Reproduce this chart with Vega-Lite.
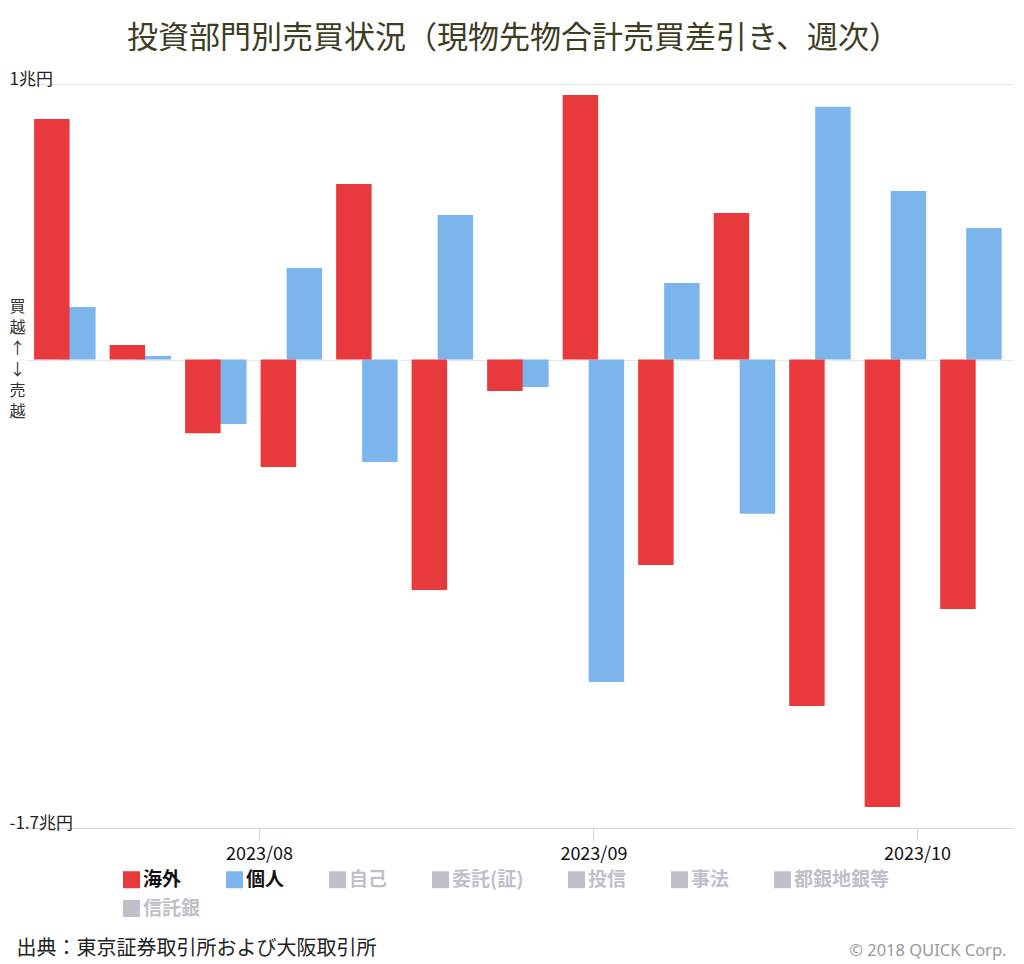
{
  "$schema": "https://vega.github.io/schema/vega-lite/v6.json",
  "width": 987,
  "height": 744,
  "autosize": {"type": "none"},
  "padding": {"left": 26, "top": 84, "right": 11, "bottom": 136},
  "background": "#ffffff",
  "title": {
    "text": "投資部門別売買状況（現物先物合計売買差引き、週次）",
    "font": "Noto Sans CJK JP",
    "fontSize": 31,
    "fontWeight": "normal",
    "color": "#3d3d1f",
    "anchor": "middle",
    "baseline": "middle",
    "offset": 0,
    "dx": -6
  },
  "config": {
    "view": {"stroke": null},
    "font": "Noto Sans CJK JP"
  },
  "data": {
    "values": [
      {"date": "2023/07/14", "series": "海外", "value": 0.873},
      {"date": "2023/07/14", "series": "個人", "value": 0.191},
      {"date": "2023/07/21", "series": "海外", "value": 0.053},
      {"date": "2023/07/21", "series": "個人", "value": 0.013},
      {"date": "2023/07/28", "series": "海外", "value": -0.267},
      {"date": "2023/07/28", "series": "個人", "value": -0.234},
      {"date": "2023/08/04", "series": "海外", "value": -0.39},
      {"date": "2023/08/04", "series": "個人", "value": 0.332},
      {"date": "2023/08/11", "series": "海外", "value": 0.637},
      {"date": "2023/08/11", "series": "個人", "value": -0.372},
      {"date": "2023/08/18", "series": "海外", "value": -0.836},
      {"date": "2023/08/18", "series": "個人", "value": 0.525},
      {"date": "2023/08/25", "series": "海外", "value": -0.114},
      {"date": "2023/08/25", "series": "個人", "value": -0.1},
      {"date": "2023/09/01", "series": "海外", "value": 0.96},
      {"date": "2023/09/01", "series": "個人", "value": -1.17},
      {"date": "2023/09/08", "series": "海外", "value": -0.746},
      {"date": "2023/09/08", "series": "個人", "value": 0.278},
      {"date": "2023/09/15", "series": "海外", "value": 0.532},
      {"date": "2023/09/15", "series": "個人", "value": -0.56},
      {"date": "2023/09/22", "series": "海外", "value": -1.257},
      {"date": "2023/09/22", "series": "個人", "value": 0.917},
      {"date": "2023/09/29", "series": "海外", "value": -1.624},
      {"date": "2023/09/29", "series": "個人", "value": 0.612},
      {"date": "2023/10/06", "series": "海外", "value": -0.905},
      {"date": "2023/10/06", "series": "個人", "value": 0.477}
    ]
  },
  "encoding": {
    "x": {
      "field": "date",
      "type": "temporal",
      "scale": {
        "padding": 0,
        "domain": [
          {"year": 2023, "month": 7, "date": 10, "hours": 9, "minutes": 36},
          {"year": 2023, "month": 10, "date": 9, "hours": 21, "minutes": 36}
        ]
      },
      "axis": {
        "values": [
          {"year": 2023, "month": 8, "date": 1},
          {"year": 2023, "month": 9, "date": 1},
          {"year": 2023, "month": 10, "date": 1}
        ],
        "format": "%Y/%m",
        "grid": false,
        "domainColor": "#ccd6eb",
        "tickColor": "#ccd6eb",
        "tickSize": 13,
        "labelFontSize": 18,
        "labelColor": "#111111",
        "labelPadding": 4,
        "labelFlush": false,
        "labelFont": "Noto Sans CJK JP",
        "title": "出典：東京証券取引所および大阪取引所",
        "titleFont": "Noto Sans CJK JP",
        "titleFontSize": 20,
        "titleFontWeight": "normal",
        "titleColor": "#222222",
        "titleAnchor": "start",
        "titleAlign": "left",
        "titleBaseline": "middle",
        "titleX": -10,
        "titleY": 120
      }
    },
    "y": {
      "field": "value",
      "type": "quantitative",
      "scale": {"domain": [-1.7, 1], "nice": false, "zero": false}
    }
  },
  "layer": [
    {
      "transform": [{"filter": "datum.series === '個人'"}],
      "mark": {"type": "bar", "width": 35.5, "xOffset": 13},
      "encoding": {
        "color": {
          "field": "series",
          "type": "nominal",
          "scale": {
            "domain": ["海外", "個人", "自己", "委託(証)", "投信", "事法", "都銀地銀等"],
            "range": ["#e83a3c", "#7cb5ec", "#c0c0cc", "#c0c0cc", "#c0c0cc", "#c0c0cc", "#c0c0cc"]
          },
          "legend": {
            "orient": "none",
            "legendX": 96,
            "legendY": 786,
            "direction": "horizontal",
            "columns": 7,
            "columnPadding": 43,
            "padding": 0,
            "title": null,
            "symbolType": "square",
            "symbolSize": 289,
            "symbolStrokeWidth": 0,
            "symbolOpacity": 1,
            "labelFont": "Noto Sans CJK JP",
            "labelFontSize": 19,
            "labelFontWeight": "bold",
            "labelOffset": 2,
            "labelLimit": 300,
            "encode": {
              "labels": {
                "update": {
                  "fill": {"signal": "datum.value === '海外' || datum.value === '個人' ? '#111111' : '#bfbfca'"}
                }
              }
            }
          }
        },
        "y": {
          "field": "value",
          "type": "quantitative",
          "scale": {"domain": [-1.7, 1], "nice": false, "zero": false},
          "axis": {
            "values": [-1.7, 0, 1],
            "labelExpr": "datum.value == 1 ? '1兆円' : (datum.value == 0 ? '' : '-1.7兆円')",
            "grid": true,
            "gridColor": "#e6e6e6",
            "domain": false,
            "ticks": false,
            "labelAlign": "left",
            "labelBaseline": "alphabetic",
            "labelPadding": 17,
            "labelFlush": false,
            "labelOverlap": false,
            "labelBound": false,
            "labelFont": "Noto Sans CJK JP",
            "labelFontSize": 17,
            "labelColor": "#222222",
            "title": ["買", "越", "↑", "↓", "売", "越"],
            "titleAngle": 0,
            "titleX": -9,
            "titleY": 222,
            "titleAlign": "center",
            "titleBaseline": "middle",
            "titleLineHeight": 21,
            "titleFont": "Noto Sans CJK JP",
            "titleFontSize": 16,
            "titleFontWeight": "normal",
            "titleColor": "#333333"
          }
        }
      }
    },
    {
      "transform": [{"filter": "datum.series === '海外'"}],
      "mark": {"type": "bar", "width": 35.5, "xOffset": -13},
      "encoding": {
        "color": {
          "field": "series",
          "type": "nominal",
          "scale": {
            "domain": ["海外", "個人", "自己", "委託(証)", "投信", "事法", "都銀地銀等"],
            "range": ["#e83a3c", "#7cb5ec", "#c0c0cc", "#c0c0cc", "#c0c0cc", "#c0c0cc", "#c0c0cc"]
          }
        },
        "y": {
          "field": "value",
          "type": "quantitative",
          "scale": {"domain": [-1.7, 1], "nice": false, "zero": false},
          "axis": {
            "orient": "right",
            "domain": false,
            "ticks": false,
            "labels": false,
            "grid": false,
            "title": "© 2018 QUICK Corp.",
            "titleAngle": 0,
            "titleX": -7,
            "titleY": 866,
            "titleAlign": "right",
            "titleBaseline": "middle",
            "titleFont": "Noto Sans",
            "titleFontSize": 16.5,
            "titleFontWeight": "normal",
            "titleColor": "#999999"
          }
        }
      }
    },
    {
      "transform": [{"filter": "datum.series === '信託銀'"}],
      "mark": {"type": "bar", "width": 35.5, "color": "#c0c0cc"},
      "encoding": {
        "y": {
          "field": "value",
          "type": "quantitative",
          "scale": {"domain": [-1.7, 1], "nice": false, "zero": false},
          "axis": null
        },
        "opacity": {
          "datum": "信託銀",
          "type": "ordinal",
          "scale": {"domain": ["信託銀"], "range": [1]},
          "legend": {
            "orient": "none",
            "legendX": 96,
            "legendY": 815,
            "direction": "horizontal",
            "padding": 0,
            "title": null,
            "symbolType": "square",
            "symbolSize": 289,
            "symbolStrokeWidth": 0,
            "symbolFillColor": "#c0c0cc",
            "symbolOpacity": 1,
            "labelFont": "Noto Sans CJK JP",
            "labelFontSize": 19,
            "labelFontWeight": "bold",
            "labelOffset": 2,
            "labelLimit": 300,
            "labelColor": "#bfbfca"
          }
        }
      }
    }
  ],
  "resolve": {"axis": {"y": "independent"}}
}
